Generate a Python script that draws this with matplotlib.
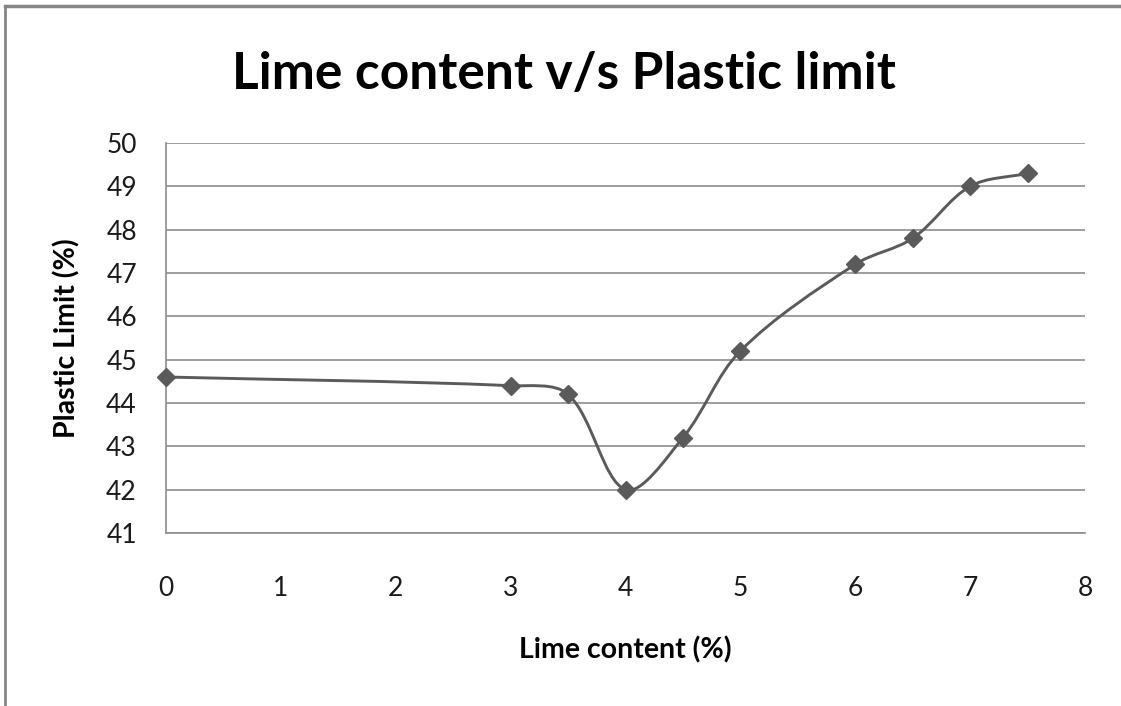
import numpy as np
import matplotlib
matplotlib.use("Agg")
import matplotlib.pyplot as plt
from matplotlib.path import Path
from matplotlib.patches import PathPatch
from matplotlib.lines import Line2D

# data
lime = [0, 3, 3.5, 4, 4.5, 5, 6, 6.5, 7, 7.5]
plastic_limit = [44.6, 44.4, 44.2, 42.0, 43.2, 45.2, 47.2, 47.8, 49.0, 49.3]
x_ticks = [0, 1, 2, 3, 4, 5, 6, 7, 8]
y_ticks = [41, 42, 43, 44, 45, 46, 47, 48, 49, 50]

LINE = "#5a5a5a"
GRID = "#8c8c8c"

plt.rcParams["font.family"] = ["Lato", "DejaVu Sans"]


def smooth_path(ax, xs, ys):
    # Excel-like smoothed line, built in screen space so uneven gaps don't overshoot
    tr = ax.transData
    pts = tr.transform(np.column_stack([xs, ys]).astype(float))
    n = len(pts)
    tang = []
    for i in range(n):
        p0 = pts[max(i - 1, 0)]
        p2 = pts[min(i + 1, n - 1)]
        d = np.linalg.norm(pts[i] - p0) + np.linalg.norm(p2 - pts[i])
        tang.append((p2 - p0) / d if d > 0 else np.zeros(2))
    verts = [pts[0]]
    codes = [Path.MOVETO]
    for i in range(n - 1):
        seg = np.linalg.norm(pts[i + 1] - pts[i])
        c1 = pts[i] + tang[i] * seg / 3.0
        c2 = pts[i + 1] - tang[i + 1] * seg / 3.0
        verts += [c1, c2, pts[i + 1]]
        codes += [Path.CURVE4] * 3
    verts = tr.inverted().transform(np.array(verts))
    return Path(verts, codes)


fig = plt.figure(figsize=(11.21, 7.06), dpi=100)
ax = fig.add_axes([166 / 1121, 1 - 533 / 706, 919 / 1121, 390 / 706])

ax.set_xlim(0, 8)
ax.set_ylim(41, 50)
ax.set_xticks(x_ticks)
ax.set_yticks(y_ticks)

ax.add_patch(PathPatch(smooth_path(ax, lime, plastic_limit), facecolor="none",
                       edgecolor=LINE, lw=2.1, zorder=3, clip_on=False))
ax.plot(lime, plastic_limit, linestyle="none", marker="D", markersize=9.5,
        color=LINE, zorder=4, clip_on=False)

ax.tick_params(axis="both", length=0, labelsize=19, colors="#1a1a1a")
ax.tick_params(axis="x", pad=31)
ax.tick_params(axis="y", pad=21)
ax.grid(axis="y", color=GRID, lw=1.2)
ax.set_axisbelow(True)
for s in ["top", "right"]:
    ax.spines[s].set_visible(False)
for s in ["left", "bottom"]:
    ax.spines[s].set_color(GRID)
    ax.spines[s].set_linewidth(1.2)

ax.set_xlabel("Lime content (%)", fontsize=20.5, fontweight="bold", va="center")
ax.xaxis.set_label_coords(0.5, (533 - 650) / 390)
ax.set_ylabel("Plastic Limit (%)", fontsize=20.5, fontweight="bold", va="center")
ax.yaxis.set_label_coords((67 - 166) / 919, 0.5)

fig.text(0.503, 0.895, "Lime content v/s Plastic limit", ha="center", va="center",
         fontsize=37, fontweight="bold")

# chart frame (left and top edges only are in view)
fig.add_artist(Line2D([5 / 1121, 5 / 1121], [0, 1 - 6 / 706], transform=fig.transFigure,
                      color="#868686", lw=2))
fig.add_artist(Line2D([5 / 1121, 1.01], [1 - 6 / 706, 1 - 6 / 706], transform=fig.transFigure,
                      color="#868686", lw=2.5))

fig.savefig("out.png", dpi=100)
